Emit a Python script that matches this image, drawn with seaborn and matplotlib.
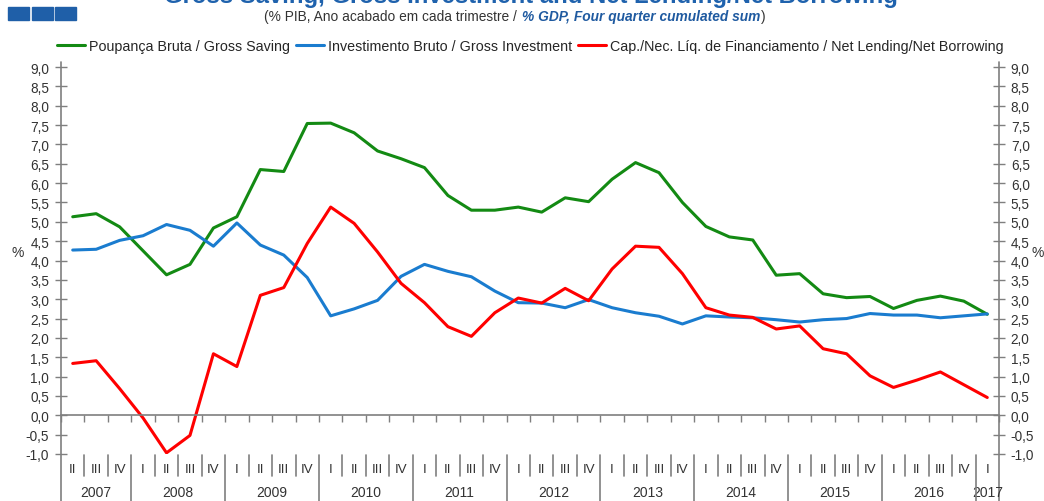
import numpy as np
import pandas as pd
import matplotlib
matplotlib.use("Agg")
import matplotlib.pyplot as plt
from matplotlib.lines import Line2D
from matplotlib.patches import Rectangle
from matplotlib.ticker import FuncFormatter
from matplotlib.transforms import blended_transform_factory
import seaborn as sns

# quarters from 2007 II to 2017 I
years = ["2007"] * 3 + [str(y) for y in range(2008, 2017) for _ in range(4)] + ["2017"]
quarters = ["II", "III", "IV"] + ["I", "II", "III", "IV"] * 9 + ["I"]

gross_saving = [5.13, 5.21, 4.87, 4.25, 3.63, 3.90, 4.84, 5.13, 6.35, 6.30,
                7.54, 7.55, 7.30, 6.83, 6.63, 6.40, 5.68, 5.30, 5.30, 5.38,
                5.25, 5.62, 5.52, 6.10, 6.53, 6.27, 5.50, 4.88, 4.61, 4.53,
                3.62, 3.66, 3.14, 3.04, 3.07, 2.76, 2.97, 3.08, 2.95, 2.61]
gross_investment = [4.27, 4.29, 4.52, 4.64, 4.93, 4.78, 4.37, 4.97, 4.40, 4.14,
                    3.56, 2.57, 2.75, 2.97, 3.59, 3.90, 3.72, 3.58, 3.21, 2.91,
                    2.90, 2.78, 2.99, 2.78, 2.65, 2.56, 2.36, 2.57, 2.54, 2.52,
                    2.47, 2.41, 2.47, 2.50, 2.63, 2.59, 2.59, 2.52, 2.57, 2.62]
net_lending = [1.34, 1.41, 0.69, -0.07, -0.97, -0.52, 1.59, 1.26, 3.10, 3.30,
               4.44, 5.38, 4.96, 4.22, 3.41, 2.91, 2.29, 2.04, 2.65, 3.03,
               2.90, 3.28, 2.96, 3.78, 4.37, 4.34, 3.66, 2.78, 2.59, 2.53,
               2.23, 2.31, 1.72, 1.59, 1.02, 0.72, 0.91, 1.12, 0.79, 0.46]

series_names = ["Poupança Bruta / Gross Saving",
                "Investimento Bruto / Gross Investment",
                "Cap./Nec. Líq. de Financiamento / Net Lending/Net Borrowing"]
colors = ["#138a13", "#1a7ccf", "#ff0000"]

n = len(quarters)
pos = np.arange(n)
df = pd.concat([
    pd.DataFrame({"pos": pos, "value": vals, "series": name})
    for name, vals in zip(series_names, [gross_saving, gross_investment, net_lending])
])

sns.set_style("white")
plt.rcParams["font.family"] = ["Liberation Sans", "DejaVu Sans"]
gray = "#7f7f7f"
txt = "#333333"

W, H = 1044, 502
X0, X1, YT, YB = 61, 999, 68, 455
fig = plt.figure(figsize=(W / 100, H / 100), dpi=100)
ax = fig.add_axes([X0 / W, 1 - YB / H, (X1 - X0) / W, (YB - YT) / H])

sns.lineplot(data=df, x="pos", y="value", hue="series", hue_order=series_names,
             palette=colors, linewidth=2.2, ax=ax, sort=False)

ax.set_xlim(-0.5, n - 0.5)
ax.set_ylim(-1.0, 9.0)
ax.set_xlabel("")
ax.set_ylabel("")

# y axes on both sides
ax.set_yticks(np.arange(-1.0, 9.01, 0.5))
ax.yaxis.set_major_formatter(FuncFormatter(lambda v, p: f"{v:.1f}".replace(".", ",")))
ax.tick_params(axis="y", which="both", left=True, right=True, labelleft=True,
               labelright=True, direction="inout", length=9, width=1,
               color=gray, labelsize=9.8, labelcolor=txt, pad=4)

# x axis at zero with ticks at quarter boundaries
ax.set_xticks(np.arange(-0.5, n, 1))
ax.set_xticklabels([])
ax.tick_params(axis="x", bottom=True, direction="out", length=5, width=1, color=gray)
for s in ["top", "left", "right"]:
    ax.spines[s].set_visible(False)
ax.spines["bottom"].set_position(("data", 0))
ax.spines["bottom"].set_color(gray)
ax.spines["bottom"].set_linewidth(1.2)

# long vertical axis lines down to the bottom of the figure
hgt = YB - YT
for xa in [0, 1]:
    ax.plot([xa, xa], [(YB - H) / hgt, (YB - 63) / hgt], transform=ax.transAxes,
            color=gray, lw=1.2, clip_on=False)

# quarter and year labels below the plot
bt = blended_transform_factory(ax.transData, fig.transFigure)
for i, q in enumerate(quarters):
    ax.text(i, 1 - 470.5 / H, q, transform=bt, ha="center", va="center",
            fontsize=9.5, color=txt)
for i in range(1, n):
    long_sep = years[i] != years[i - 1]
    y_end = 0 if long_sep else 1 - 477 / H
    fig.add_artist(Line2D([i - 0.5, i - 0.5], [1 - 456 / H, y_end], transform=bt,
                          color=gray, lw=1.2))
for yr in dict.fromkeys(years):
    idx = [i for i, y in enumerate(years) if y == yr]
    ax.text(np.mean(idx), 1 - 493 / H, yr, transform=bt, ha="center", va="center",
            fontsize=10, color=txt)

# "%" axis labels
fig.text(18 / W, 1 - 253 / H, "%", ha="center", va="center", fontsize=10, color=txt)
fig.text(1038 / W, 1 - 253 / H, "%", ha="center", va="center", fontsize=10, color=txt)

# legend
sns.move_legend(ax, "center", bbox_to_anchor=((530 - X0) / (X1 - X0), (YB - 47) / hgt),
                ncol=3, frameon=False, title=None, fontsize=10.3, handlelength=2.0,
                handletextpad=0.25, columnspacing=0.4)

# title (partially cut at the top) and subtitle
fig.text(531 / W, 1 - 3 / H, "Gross Saving, Gross Investment and Net Lending/Net Borrowing",
         ha="center", va="baseline", fontsize=17.2, fontweight="bold", color="#1f62ad")
for k in range(3):
    fig.add_artist(Rectangle(((8 + 23.5 * k) / W, 1 - 21 / H), 21 / W, 13 / H,
                             transform=fig.transFigure, color="#1f5fa8"))

renderer = fig.canvas.get_renderer()
fs_sub = 9.9
t1 = fig.text(521 / W, 1 - 17 / H, "(% PIB, Ano acabado em cada trimestre / ",
              ha="right", va="center", fontsize=fs_sub, color=txt)
t2 = fig.text(522 / W, 1 - 17 / H, "% GDP, Four quarter cumulated sum",
              ha="left", va="center", fontsize=fs_sub, color="#1f5aa0",
              fontweight="bold", fontstyle="italic")
bb = t2.get_window_extent(renderer)
fig.text(bb.x1 / W + 1 / W, 1 - 17 / H, ")", ha="left", va="center",
         fontsize=fs_sub, color=txt)

fig.savefig("out.png", dpi=100)
